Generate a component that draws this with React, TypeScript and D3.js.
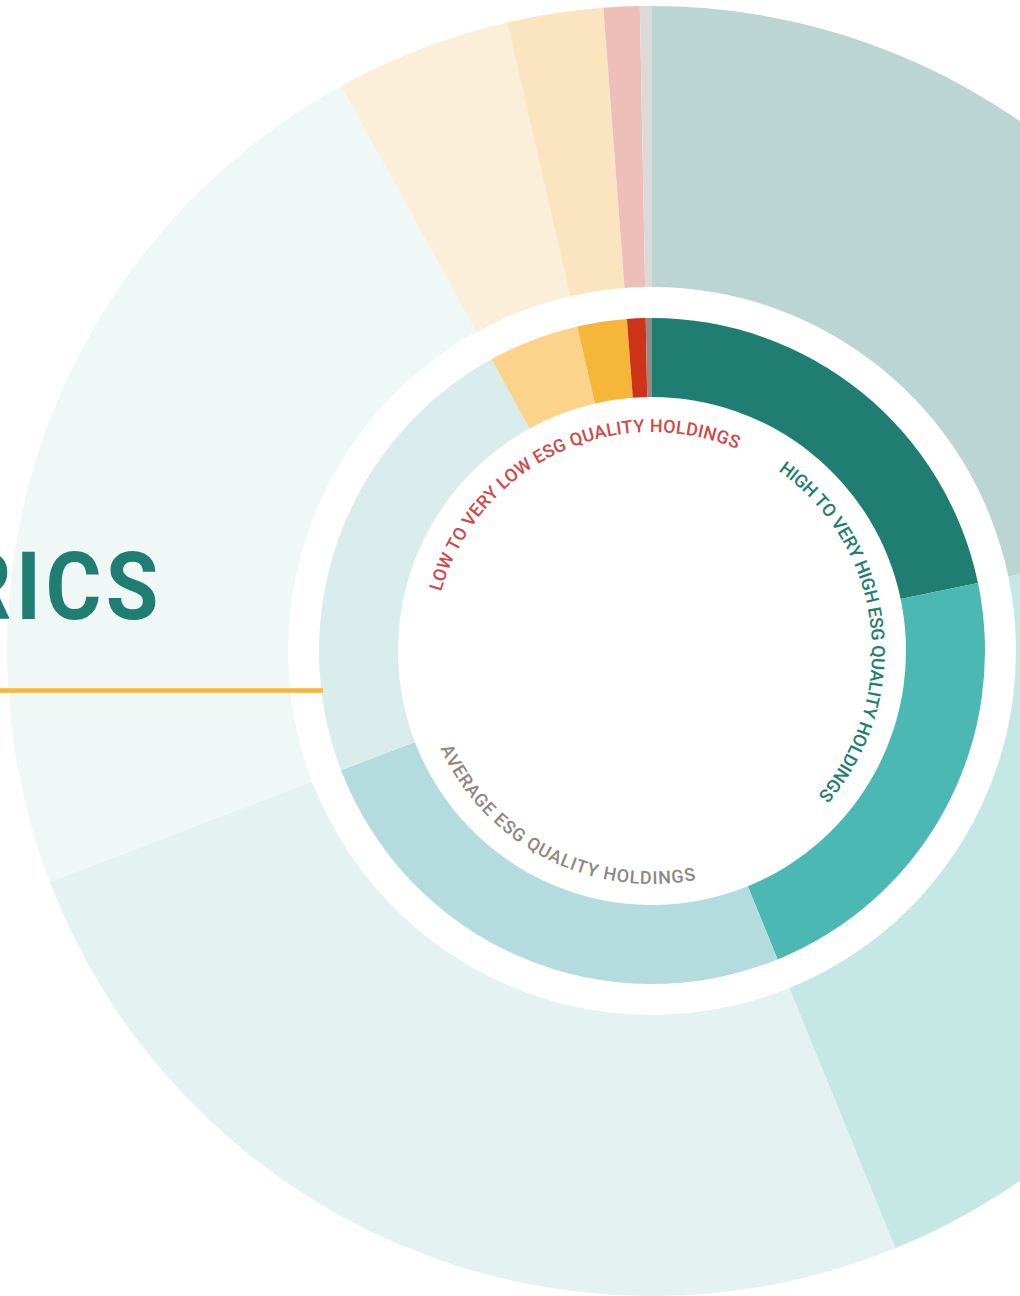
import React, { useEffect, useRef } from 'react';
import * as d3 from 'd3';

// ESG quality breakdown, share of holdings (%)
const ratings = ['AAA', 'AA', 'A', 'BBB', 'BB', 'B', 'CCC', 'Not rated'];
const weights = [21.7, 22.1, 25.3, 22.8, 4.4, 2.4, 0.9, 0.3];
const innerColors = ['#207d72', '#4bb8b4', '#b4dcdf', '#d8edec', '#fcd38a', '#f6b63a', '#ce3317', '#958b86'];
const outerColors = ['#bbd6d2', '#c5e8e5', '#e4f2f1', '#f0f7f7', '#fbefda', '#fbe5c1', '#eebfb9', '#dcd9d8'];

const groupLabels = [
  'LOW TO VERY LOW ESG QUALITY HOLDINGS',
  'HIGH TO VERY HIGH ESG QUALITY HOLDINGS',
  'AVERAGE ESG QUALITY HOLDINGS',
];
const titleText = 'METRICS';

const W = 1020;
const H = 1296;
const cx = 652;
const cy = 651;
const rad = (deg: number) => (deg * Math.PI) / 180;

function pt(deg: number, r: number) {
  const a = rad(deg);
  return [cx + r * Math.sin(a), cy - r * Math.cos(a)];
}

// arc path for a textPath, clockwise or counter-clockwise
// (a little longer than the label so no glyph gets dropped)
function arcPath(a0: number, a1: number, r: number, cw: boolean) {
  const end = a1 + (cw ? 8 : -8);
  const [x0, y0] = pt(a0, r);
  const [x1, y1] = pt(end, r);
  const large = Math.abs(end - a0) > 180 ? 1 : 0;
  return `M${x0},${y0} A${r},${r} 0 ${large} ${cw ? 1 : 0} ${x1},${y1}`;
}

const curved = [
  { text: groupLabels[0], a0: 285.7, a1: 382.8, r: 219, cw: true, color: '#d0484c' },
  { text: groupLabels[1], a0: 35, a1: 131, r: 220, cw: true, color: '#217d73' },
  { text: groupLabels[2], a0: 245.3, a1: 169.2, r: 233, cw: false, color: '#8f8782' },
];

export default function App() {
  const labelRef = useRef<SVGGElement>(null);

  const pie = d3.pie<number>().sort(null).value((d) => d);
  const slices = pie(weights);

  const innerArc = d3.arc<d3.PieArcDatum<number>>().innerRadius(254).outerRadius(333);
  const outerArc = d3.arc<d3.PieArcDatum<number>>().innerRadius(364).outerRadius(645);

  // spread the letters so each label fills its arc
  useEffect(() => {
    if (!labelRef.current) return;
    d3.select(labelRef.current)
      .selectAll<SVGTextElement, unknown>('text')
      .each(function (_, i) {
        const c = curved[i];
        const target = c.r * rad(Math.abs(c.a1 - c.a0));
        const el = this as SVGTextElement;
        el.style.letterSpacing = '0px';
        const len = el.getComputedTextLength();
        const sp = (target - len) / (c.text.length - 1);
        el.style.letterSpacing = sp.toFixed(2) + 'px';
      });
  }, []);

  const font = "'Roboto', 'DejaVu Sans', sans-serif";

  return (
    <svg width={W} height={H} style={{ position: 'absolute', left: 0, top: 0, background: '#fff' }}>
      <g transform={`translate(${cx},${cy})`}>
        {slices.map((s, i) => (
          <path key={'o' + ratings[i]} d={outerArc(s) || ''} fill={outerColors[i]} />
        ))}
        {slices.map((s, i) => (
          <path key={'i' + ratings[i]} d={innerArc(s) || ''} fill={innerColors[i]} />
        ))}
      </g>

      <defs>
        {curved.map((c, i) => (
          <path key={i} id={'lab' + i} d={arcPath(c.a0, c.a1, c.r, c.cw)} fill="none" />
        ))}
      </defs>
      <g ref={labelRef}>
        {curved.map((c, i) => (
          <text key={i} fontFamily={font} fontWeight={500} fontSize={18} fill={c.color}>
            <textPath href={'#lab' + i}>{c.text}</textPath>
          </text>
        ))}
      </g>

      <g transform="translate(163,619) scale(0.9,1)">
        <text
          textAnchor="end"
          fontFamily={font}
          fontWeight={700}
          fontSize={95}
          fill="#207d72"
          style={{ letterSpacing: '5px' }}
        >
          {titleText}
        </text>
      </g>
      <line x1={0} x2={323} y1={690.5} y2={690.5} stroke="#fbb43a" strokeWidth={4.3} />
    </svg>
  );
}
